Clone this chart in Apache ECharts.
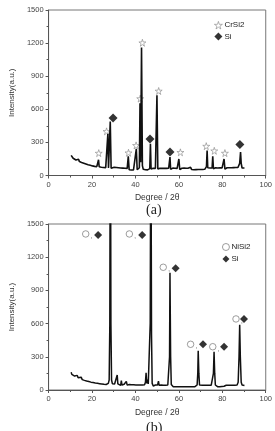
<!DOCTYPE html>
<html lang="en">
<head>
    <meta charset="UTF-8">
    <title>XRD</title>
    <style>
        html, body { margin: 0; padding: 0; background: #fff; }
        #container { width: 275px; height: 431px; }
    </style>
</head>
<script type="text/javascript" src="https://fastly.jsdelivr.net/npm/echarts@6/dist/echarts.min.js"></script>
<body>
<div id="container"></div>

<script type="text/javascript">
    // (a) CrSi2 film: [2theta, intensity]
    var patternA = [
        [10.4,182],[10.7,164],[11.0,178],[11.3,156],[11.6,170],[11.9,148],[12.2,162],[12.6,141],[13.0,154],[13.4,134],
        [13.8,147],[14.2,126],[14.7,139],[15.2,118],[15.7,131],[16.2,111],[16.7,124],[17.2,104],[17.7,117],[18.2,97],
        [18.7,110],[19.2,92],[19.7,105],[20.2,87],[20.7,100],[21.2,83],[21.7,96],[22.2,80],[22.7,92],[23.0,143],
        [23.3,79],[23.8,90],[24.3,75],[24.8,88],[25.3,73],[25.8,86],[26.3,71],[26.9,82],[27.3,379],[27.6,69],
        [28.0,80],[28.4,490],[28.8,66],[29.2,78],[29.7,62],[30.2,74],[30.7,59],[31.2,72],[31.7,57],[32.2,70],
        [32.7,55],[33.2,68],[33.7,54],[34.2,67],[34.7,52],[35.2,66],[35.7,51],[36.2,65],[36.7,173],[37.1,52],
        [37.6,65],[38.1,50],[38.6,64],[39.1,50],[39.6,64],[40.0,51],[40.4,242],[40.8,52],[41.3,66],[41.8,70],
        [42.1,655],[42.4,120],[42.8,1160],[43.2,90],[43.6,56],[44.1,66],[44.6,52],[45.1,65],[45.6,51],[46.1,65],
        [46.6,62],[46.9,288],[47.2,58],[47.7,52],[48.2,66],[48.7,51],[49.2,65],[49.6,66],[49.9,727],[50.3,58],
        [50.8,52],[51.3,66],[51.8,51],[52.3,65],[52.8,52],[53.3,66],[53.8,51],[54.3,65],[54.8,52],[55.3,66],
        [55.6,64],[55.9,167],[56.2,56],[56.7,52],[57.2,67],[57.7,52],[58.2,66],[58.7,51],[59.2,65],[59.6,58],
        [60.0,150],[60.4,54],[60.9,51],[61.4,66],[61.9,52],[62.4,67],[62.9,51],[63.4,66],[63.9,52],[64.4,67],
        [64.9,52],[65.4,74],[65.9,54],[66.4,67],[66.9,52],[67.4,67],[67.9,53],[68.4,68],[68.9,54],[69.4,70],
        [69.9,54],[70.4,68],[70.9,54],[71.4,68],[71.9,56],[72.4,70],[72.7,80],[73.0,227],[73.3,70],[73.8,58],
        [74.3,68],[74.8,56],[75.3,68],[75.6,173],[75.9,62],[76.4,56],[76.9,70],[77.4,54],[77.9,68],[78.4,54],
        [78.9,69],[79.4,55],[79.9,69],[80.4,56],[80.8,150],[81.2,58],[81.7,55],[82.2,70],[82.7,56],[83.2,70],
        [83.7,55],[84.2,70],[84.7,56],[85.2,71],[85.7,57],[86.2,72],[86.7,58],[87.2,72],[87.7,64],[88.0,110],
        [88.4,212],[88.7,110],[89.1,68],[89.6,58],[90.2,68]
    ];
    var crsi2A = [[23.1,203],[26.7,400],[36.8,206],[40.3,273],[42.2,697],[43.2,1203],[50.7,766],
        [60.7,210],[72.6,266],[76.3,224],[81.2,203]];
    var siA = [[29.7,521],[46.7,330],[55.9,212],[88.1,280]];

    // (b) NiSi2 film
    var patternB = [
        [10.4,160],[10.7,141],[11.0,156],[11.3,134],[11.6,149],[12.0,126],[12.4,140],[12.8,118],[13.2,132],[13.6,110],
        [14.0,124],[14.5,102],[15.0,116],[15.5,94],[16.0,108],[16.5,87],[17.0,101],[17.5,81],[18.0,95],[18.5,76],
        [19.0,90],[19.5,71],[20.0,85],[20.5,67],[21.0,81],[21.5,63],[22.0,79],[22.5,60],[23.0,74],[23.5,57],
        [24.0,71],[24.5,54],[25.0,68],[25.5,51],[26.0,66],[26.5,50],[27.0,65],[27.5,60],[27.9,90],[28.2,600],
        [28.45,3200],[28.7,600],[29.0,90],[29.4,56],[29.9,42],[30.4,54],[30.9,40],[31.3,60],[31.6,135],[31.9,55],
        [32.3,40],[32.8,52],[33.2,42],[33.5,84],[33.8,45],[34.3,38],[34.8,52],[35.3,38],[35.8,78],[36.2,44],
        [36.7,36],[37.2,49],[37.7,35],[38.2,48],[38.7,34],[39.2,47],[39.7,33],[40.2,46],[40.7,33],[41.2,46],
        [41.7,32],[42.2,45],[42.7,32],[43.2,45],[43.7,35],[44.2,48],[44.6,70],[44.9,156],[45.2,60],[45.6,95],
        [45.9,55],[46.5,70],[46.8,600],[47.1,2800],[47.4,500],[47.7,60],[48.2,36],[48.7,35],[49.2,45],[49.7,32],
        [50.2,46],[50.6,80],[50.9,42],[51.4,32],[51.9,45],[52.4,31],[52.9,44],[53.4,31],[53.9,44],[54.4,31],
        [54.9,45],[55.4,50],[55.7,300],[55.9,1060],[56.2,300],[56.5,50],[56.9,38],[57.4,30],[57.9,43],[58.4,30],
        [58.9,43],[59.4,30],[59.9,43],[60.4,30],[60.9,43],[61.4,30],[61.9,43],[62.4,30],[62.9,43],[63.4,30],
        [63.9,43],[64.4,30],[64.9,43],[65.4,30],[65.9,43],[66.4,30],[66.9,43],[67.4,30],[67.9,44],[68.4,45],
        [68.7,150],[68.9,355],[69.2,150],[69.5,45],[69.9,36],[70.4,30],[70.9,43],[71.4,30],[71.9,43],[72.4,30],
        [72.9,43],[73.4,30],[73.9,43],[74.4,30],[74.9,44],[75.5,45],[75.9,150],[76.2,345],[76.5,150],[76.8,45],
        [77.3,36],[77.8,30],[78.3,43],[78.8,30],[79.3,43],[79.8,32],[80.3,49],[80.8,34],[81.3,30],[81.8,43],
        [82.3,30],[82.8,43],[83.3,30],[83.8,43],[84.3,30],[84.8,43],[85.3,31],[85.8,44],[86.3,32],[86.8,45],
        [87.3,70],[87.7,300],[88.0,590],[88.3,300],[88.7,70],[89.1,45],[89.6,36],[90.2,40]
    ];
    var nisi2B = [[17.1,1410],[37.2,1410],[52.8,1109],[65.4,413],[75.6,391],[86.3,642]];
    var siB = [[22.8,1400],[43.1,1400],[58.5,1100],[71.1,413],[80.8,391],[90.0,642]];

    var xTicks = [0, 100, 20];     // min, max, interval
    var yTicks = [0, 1500, 300];

    var starPath = 'path://M50,0 L61,35 L98,35 L68,57 L79,91 L50,70 L21,91 L32,57 L2,35 L39,35 Z';
    var font = 'Arial, "Liberation Sans", sans-serif';
    var starStyle = {color: '#fff', borderColor: '#888', borderWidth: 0.8};
    var circleStyle = {color: '#fff', borderColor: '#777', borderWidth: 0.9};
    var diamondStyle = {color: '#000', borderWidth: 0};

    var dom = document.getElementById('container');
    var myChart = echarts.init(dom, null, {renderer: 'canvas'});

    function xAxisFor(i, gap) {
        return {
            gridIndex: i, type: 'value', min: xTicks[0], max: xTicks[1], interval: xTicks[2],
            name: 'Degree / 2\u03b8', nameLocation: 'middle', nameGap: gap,
            nameTextStyle: {fontSize: 8.5, color: '#333', fontFamily: font},
            axisLine: {onZero: false, lineStyle: {color: '#555', width: 1}},
            axisTick: {length: 3, lineStyle: {color: '#555'}},
            minorTick: {show: true, splitNumber: 2, length: 2, lineStyle: {color: '#555'}},
            axisLabel: {fontSize: 7.5, color: '#444', margin: 5, fontFamily: font},
            splitLine: {show: false}
        };
    }
    function yAxisFor(i) {
        return {
            gridIndex: i, type: 'value', min: yTicks[0], max: yTicks[1], interval: yTicks[2],
            name: 'Intensity(a.u.)', nameLocation: 'middle', nameGap: 30,
            nameTextStyle: {fontSize: 8, color: '#333', fontFamily: font},
            axisLine: {show: true, lineStyle: {color: '#555', width: 1}},
            axisTick: {show: true, length: 3, lineStyle: {color: '#555'}},
            minorTick: {show: true, splitNumber: 2, length: 2, lineStyle: {color: '#555'}},
            axisLabel: {fontSize: 7.5, color: '#444', margin: 5, fontFamily: font,
                formatter: function (v) { return String(v); }},
            splitLine: {show: false}
        };
    }

    var option = {
        animation: false,
        backgroundColor: '#fff',
        grid: [
            {left: 45, top: 10, width: 224, height: 165.5, show: true, borderColor: '#777', borderWidth: 1},
            {left: 46.5, top: 224, width: 223.5, height: 166, show: true, borderColor: '#777', borderWidth: 1}
        ],
        xAxis: [xAxisFor(0, 18), xAxisFor(1, 18)],
        yAxis: [yAxisFor(0), yAxisFor(1)],
        legend: [
            {
                data: [
                    {name: 'CrSi2', icon: starPath, itemStyle: starStyle},
                    {name: 'Si', icon: 'diamond', itemStyle: diamondStyle}
                ],
                orient: 'vertical', left: 214, top: 21, padding: 0,
                itemWidth: 8, itemHeight: 8, itemGap: 3,
                textStyle: {fontSize: 8, color: '#222', fontFamily: font, padding: [0, 0, 0, -3]}
            },
            {
                data: [
                    {name: 'NiSi2', icon: 'circle', itemStyle: circleStyle},
                    {name: 'Si', icon: 'diamond', itemStyle: diamondStyle}
                ],
                orient: 'vertical', left: 222, top: 243, padding: 0,
                itemWidth: 7, itemHeight: 7, itemGap: 4,
                textStyle: {fontSize: 8, color: '#222', fontFamily: font, padding: [0, 0, 0, -3]}
            }
        ],
        graphic: [
            {type: 'text', left: 146, top: 203, style: {text: '(a)', fontSize: 14, fontFamily: '"Liberation Serif", "Times New Roman", serif', fill: '#222'}},
            {type: 'text', left: 146, top: 421, style: {text: '(b)', fontSize: 14, fontFamily: '"Liberation Serif", "Times New Roman", serif', fill: '#222'}}
        ],
        series: [
            {
                type: 'line', xAxisIndex: 0, yAxisIndex: 0, data: patternA, showSymbol: false,
                lineStyle: {color: '#111', width: 1.6}, clip: true
            },
            {
                name: 'CrSi2', type: 'scatter', xAxisIndex: 0, yAxisIndex: 0, data: crsi2A,
                symbol: starPath, symbolSize: 7, itemStyle: starStyle
            },
            {
                name: 'Si', type: 'scatter', xAxisIndex: 0, yAxisIndex: 0, data: siA,
                symbol: 'diamond', symbolSize: 9, itemStyle: diamondStyle
            },
            {
                type: 'line', xAxisIndex: 1, yAxisIndex: 1, data: patternB, showSymbol: false,
                lineStyle: {color: '#111', width: 1.5}, clip: true
            },
            {
                name: 'NiSi2', type: 'scatter', xAxisIndex: 1, yAxisIndex: 1, data: nisi2B,
                symbol: 'circle', symbolSize: 6.5, itemStyle: circleStyle,
                label: {show: true, formatter: ',', position: 'right', distance: 1, offset: [0, 2], fontSize: 8, color: '#666'}
            },
            {
                name: 'Si', type: 'scatter', xAxisIndex: 1, yAxisIndex: 1, data: siB,
                symbol: 'diamond', symbolSize: 8, itemStyle: diamondStyle
            }
        ]
    };

    if (option && typeof option === 'object') {
        myChart.setOption(option);
    }

    window.addEventListener('resize', myChart.resize);
</script>

</body>
</html>
